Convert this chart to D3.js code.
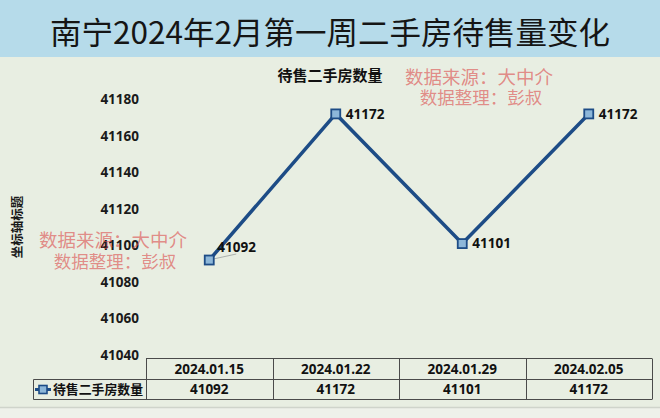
<!DOCTYPE html>
<html><head><meta charset="utf-8">
<script src="https://cdn.jsdelivr.net/npm/d3@7"></script>
<style>
html,body{margin:0;padding:0;background:#e8eee2;}
svg{display:block;font-family:"Noto Sans CJK SC","Noto Sans",sans-serif;}
</style></head>
<body>
<svg id="c" width="660" height="418"></svg>
<script>
const title = "南宁2024年2月第一周二手房待售量变化";
const seriesName = "待售二手房数量";
const categories = ["2024.01.15","2024.01.22","2024.01.29","2024.02.05"];
const values = [41092, 41172, 41101, 41172];
const yTicks = [41040, 41060, 41080, 41100, 41120, 41140, 41160, 41180];
const yAxisTitle = "坐标轴标题";
const watermark = ["数据来源：大中介", "数据整理：彭叔"];

const svg = d3.select("#c");
// backgrounds
svg.append("rect").attr("x",0).attr("y",0).attr("width",660).attr("height",418).attr("fill","#e8eee2");
svg.append("rect").attr("x",0).attr("y",0).attr("width",660).attr("height",57).attr("fill","#b6dbea");
svg.append("rect").attr("x",0).attr("y",408).attr("width",660).attr("height",10).attr("fill","#eef1ea");
svg.append("line").attr("x1",0).attr("x2",660).attr("y1",407.5).attr("y2",407.5).attr("stroke","#cfd4cb").attr("stroke-width",1.5);

svg.append("text").attr("x",330).attr("y",44).attr("text-anchor","middle")
  .attr("font-size",31).attr("fill","#151515").attr("font-weight",400)
  .attr("textLength",560).attr("lengthAdjust","spacingAndGlyphs").text(title);

const x = d3.scaleBand().domain(categories).range([146,652]);
const y = d3.scaleLinear().domain([41040,41180]).range([355,99.3]);

// y axis labels
const yAxis = d3.axisLeft(y).tickValues(yTicks).tickSize(0).tickPadding(0).tickFormat(d3.format("d"));
const ga = svg.append("g").attr("transform","translate(139,0)").call(yAxis);
ga.select(".domain").remove();
ga.selectAll("text").attr("font-size",13.5).attr("font-weight","bold").attr("fill","#1a1a1a")
  .attr("font-family","'Noto Sans','Open Sans',sans-serif");

// y axis title
svg.append("text").attr("transform","translate(22,227) rotate(-90)").attr("text-anchor","middle")
  .attr("font-size",12.5).attr("font-weight","bold").attr("fill","#1a1a1a").text(yAxisTitle);

// chart title
svg.append("text").attr("x",330).attr("y",81).attr("text-anchor","middle")
  .attr("font-size",15).attr("font-weight","bold").attr("fill","#111").text(seriesName);

// line
const cx = d => x(d) + x.bandwidth()/2;
const line = d3.line().x((d,i)=>cx(categories[i])).y(d=>y(d));
svg.append("path").datum(values).attr("d",line).attr("fill","none")
  .attr("stroke","#1d4c86").attr("stroke-width",3.5).attr("stroke-linejoin","miter");

// leader line for first label
svg.append("line").attr("x1",cx(categories[0])+4).attr("y1",y(values[0])-1)
  .attr("x2",cx(categories[0])+27).attr("y2",y(values[0])-6).attr("stroke","#9aa0a0").attr("stroke-width",0.8);

// markers
svg.selectAll("rect.m").data(values).enter().append("rect").attr("class","m")
  .attr("x",(d,i)=>cx(categories[i])-4.5).attr("y",d=>y(d)-4.5).attr("width",9).attr("height",9)
  .attr("fill","#8db7d9").attr("stroke","#1d4c86").attr("stroke-width",1.8);

// data labels
const lblOff = [[8,-13],[10,0],[10,0],[10,0]];
svg.selectAll("text.dl").data(values).enter().append("text").attr("class","dl")
  .attr("x",(d,i)=>cx(categories[i])+lblOff[i][0]).attr("y",(d,i)=>y(d)+lblOff[i][1])
  .attr("dy","0.36em").attr("font-size",13.5).attr("font-weight","bold").attr("fill","#111")
  .attr("font-family","'Noto Sans','Open Sans',sans-serif").text(d=>d);

// table
const tTop = 358.5, tMid = 379.5, tBot = 399.5, legL = 33.5;
const tb = svg.append("g").attr("stroke","#4a4a4a").attr("stroke-width",1).attr("fill","none");
tb.append("line").attr("x1",146).attr("x2",652).attr("y1",tTop).attr("y2",tTop);
tb.append("line").attr("x1",legL).attr("x2",652).attr("y1",tMid).attr("y2",tMid);
tb.append("line").attr("x1",legL).attr("x2",652).attr("y1",tBot).attr("y2",tBot);
tb.append("line").attr("x1",legL).attr("x2",legL).attr("y1",tMid).attr("y2",tBot);
const bounds = categories.map(c=>x(c)).concat([x(categories[categories.length-1])+x.bandwidth()]);
bounds.forEach(b=>tb.append("line").attr("x1",Math.round(b)+0.5).attr("x2",Math.round(b)+0.5).attr("y1",tTop).attr("y2",tBot));

svg.selectAll("text.hd").data(categories).enter().append("text").attr("class","hd")
  .attr("x",d=>cx(d)).attr("y",(tTop+tMid)/2).attr("dy","0.36em").attr("text-anchor","middle")
  .attr("font-size",13.5).attr("font-weight","bold").attr("fill","#111")
  .attr("font-family","'Noto Sans','Open Sans',sans-serif").text(d=>d);
svg.selectAll("text.tv").data(values).enter().append("text").attr("class","tv")
  .attr("x",(d,i)=>cx(categories[i])).attr("y",(tMid+tBot)/2).attr("dy","0.36em").attr("text-anchor","middle")
  .attr("font-size",13.5).attr("font-weight","bold").attr("fill","#111")
  .attr("font-family","'Noto Sans','Open Sans',sans-serif").text(d=>d);

// legend key
const ly = (tMid+tBot)/2;
svg.append("line").attr("x1",35).attr("x2",51).attr("y1",ly).attr("y2",ly).attr("stroke","#1d4c86").attr("stroke-width",3);
svg.append("rect").attr("x",39).attr("y",ly-4).attr("width",8).attr("height",8).attr("fill","#8db7d9").attr("stroke","#1d4c86").attr("stroke-width",1.6);
svg.append("text").attr("x",53).attr("y",ly).attr("dy","0.36em").attr("font-size",13).attr("font-weight","bold")
  .attr("fill","#111").attr("textLength",90).attr("lengthAdjust","spacingAndGlyphs").text(seriesName);

// watermarks
const wm = [
  {x:479, y:[77,98]},
  {x:113, y:[240,262]}
];
wm.forEach(w=>{
  watermark.forEach((t,i)=>{
    svg.append("text").attr("x",w.x+(i?2:0)).attr("y",w.y[i]).attr("dy","0.36em").attr("text-anchor","middle")
      .attr("font-size",i?17.5:18.5).attr("fill","#dc4b4b").attr("fill-opacity",0.62)
      .attr("font-family","'Noto Sans CJK SC',serif").text(t);
  });
});
</script>
</body></html>
